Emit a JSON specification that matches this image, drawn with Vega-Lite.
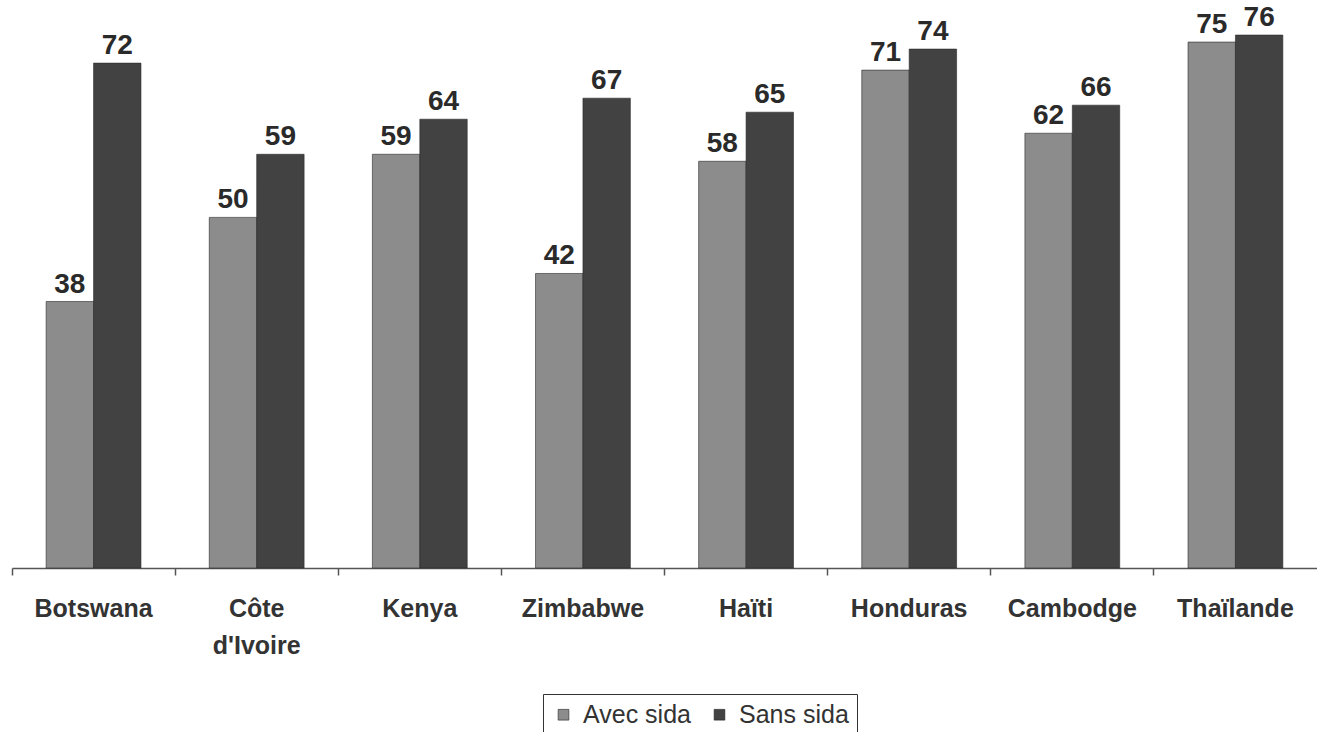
{
  "$schema": "https://vega.github.io/schema/vega-lite/v6.json",
  "width": 1305,
  "height": 568,
  "autosize": "none",
  "padding": {"left": 12, "top": 0, "right": 0, "bottom": 164},
  "background": "white",
  "data": {
    "values": [
      {"pays": "Botswana", "serie": "Avec sida", "valeur": 38},
      {"pays": "Botswana", "serie": "Sans sida", "valeur": 72},
      {"pays": "Côte d'Ivoire", "serie": "Avec sida", "valeur": 50},
      {"pays": "Côte d'Ivoire", "serie": "Sans sida", "valeur": 59},
      {"pays": "Kenya", "serie": "Avec sida", "valeur": 59},
      {"pays": "Kenya", "serie": "Sans sida", "valeur": 64},
      {"pays": "Zimbabwe", "serie": "Avec sida", "valeur": 42},
      {"pays": "Zimbabwe", "serie": "Sans sida", "valeur": 67},
      {"pays": "Haïti", "serie": "Avec sida", "valeur": 58},
      {"pays": "Haïti", "serie": "Sans sida", "valeur": 65},
      {"pays": "Honduras", "serie": "Avec sida", "valeur": 71},
      {"pays": "Honduras", "serie": "Sans sida", "valeur": 74},
      {"pays": "Cambodge", "serie": "Avec sida", "valeur": 62},
      {"pays": "Cambodge", "serie": "Sans sida", "valeur": 66},
      {"pays": "Thaïlande", "serie": "Avec sida", "valeur": 75},
      {"pays": "Thaïlande", "serie": "Sans sida", "valeur": 76}
    ]
  },
  "encoding": {
    "x": {
      "field": "pays",
      "type": "nominal",
      "sort": null,
      "title": null,
      "scale": {"paddingInner": 0, "paddingOuter": 0},
      "axis": {
        "labelExpr": "datum.value == \"Côte d'Ivoire\" ? ['Côte', \"d'Ivoire\"] : datum.value",
        "labelAngle": 0,
        "labelFont": "Liberation Sans",
        "labelFontWeight": "bold",
        "labelFontSize": 25,
        "labelColor": "#333333",
        "labelPadding": 21,
        "labelLineHeight": 37,
        "bandPosition": 0,
        "domainColor": "#555555",
        "domainWidth": 1.5,
        "tickColor": "#555555",
        "tickSize": 7,
        "tickWidth": 1.5,
        "grid": false
      }
    },
    "xOffset": {
      "field": "serie",
      "type": "nominal",
      "scale": {"paddingInner": 0, "paddingOuter": 0.72}
    },
    "y": {
      "field": "valeur",
      "type": "quantitative",
      "scale": {"domain": [0, 81]},
      "axis": null
    }
  },
  "layer": [
    {
      "mark": {"type": "bar", "stroke": "#2a2a2a", "strokeWidth": 0.6},
      "encoding": {
        "fill": {
          "field": "serie",
          "type": "nominal",
          "scale": {"domain": ["Avec sida", "Sans sida"], "range": ["#8c8c8c", "#424242"]},
          "legend": {
            "title": null,
            "orient": "none",
            "direction": "horizontal",
            "legendX": 531,
            "legendY": 694,
            "symbolType": "square",
            "symbolSize": 115,
            "symbolStrokeColor": "#222222",
            "symbolStrokeWidth": 0.6,
            "labelFont": "Liberation Sans",
            "labelFontSize": 25,
            "labelColor": "#333333",
            "columnPadding": 16,
            "labelOffset": 7,
            "padding": 8,
            "strokeColor": "#333333",
            "fillColor": "white"
          }
        }
      }
    },
    {
      "mark": {
        "type": "text",
        "baseline": "alphabetic",
        "dy": -9,
        "font": "Liberation Sans",
        "fontWeight": "bold",
        "fontSize": 28,
        "fill": "#2a2a2a"
      },
      "encoding": {
        "text": {"field": "valeur", "type": "quantitative"}
      }
    }
  ],
  "config": {"view": {"stroke": null}}
}
